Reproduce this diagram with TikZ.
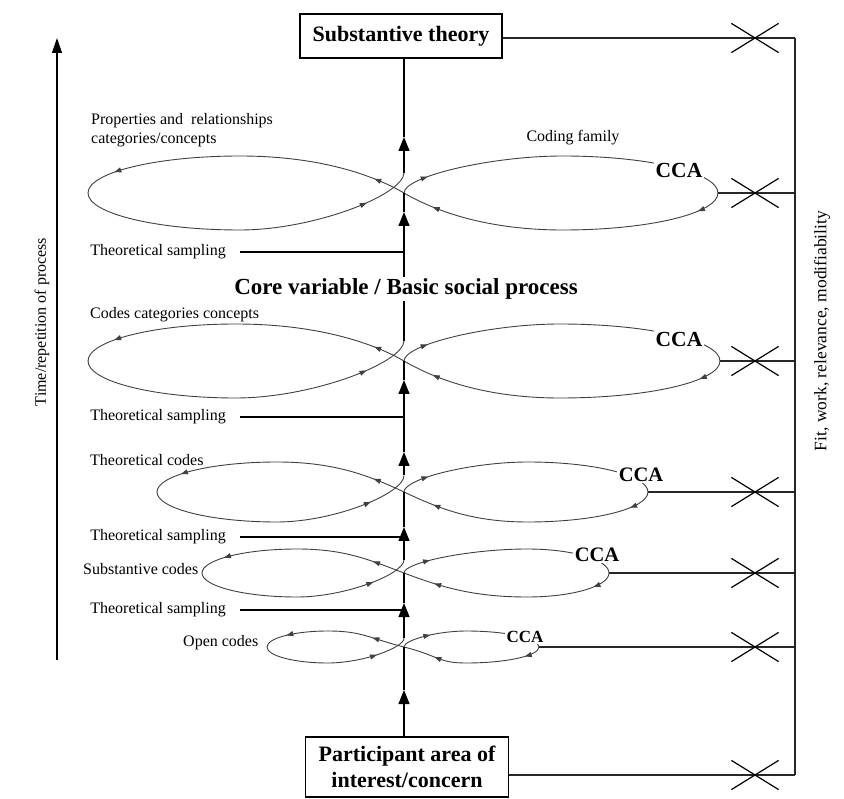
\documentclass[tikz,border=0pt]{standalone}
\usepackage{fontspec}
\setmainfont{Liberation Serif}
\usetikzlibrary{positioning, arrows.meta, shapes.misc, decorations.markings}
\tikzset{
  riquadro/.style  = {rectangle, draw, line width=1.4pt, fill=white, align=center, inner sep=3pt, font=\fontsize{22}{26}\selectfont\bfseries},
  titolo/.style    = {fill=white, inner sep=2pt, font=\fontsize{23}{27}\selectfont\bfseries},
  etich/.style     = {inner sep=0pt, align=left, font=\fontsize{16}{19}\selectfont},
  cca/.style       = {fill=white, inner sep=1.5pt, font=\fontsize{#1}{#1}\selectfont\bfseries},
  lus/.style       = {line width=0.9pt, draw=black!75},
  asse/.style      = {line width=1.2pt},
  link/.style      = {line width=1.5pt, draw=black!85},
  croce/.style     = {cross out, draw, line width=1.2pt, minimum width=46pt, minimum height=28pt, inner sep=0pt},
  freccia/.style   = {-{Triangle[length=14pt,width=11pt]}},
  freccina/.style  = {postaction={decorate}, decoration={markings, mark=at position #1 with {\arrow{Triangle[length=7pt,width=5pt]}}}},
  % figure eight: half height, left end, left top, right top, right end
  pics/ciclo/.style n args={5}{code={
    \coordinate (-c)   at (0,0);
    \coordinate (-top) at (0,-0.55*#1);
    \coordinate (-re)  at (#5,0);
    % right loop
    \draw[lus, freccina=30pt] (0,0) .. controls (0,-0.45*#1) and (0.55*#4,-#1) .. (#4,-#1);
    \draw[lus] (#4,-#1) .. controls ({#4+0.552*(#5-#4)},-#1) and (#5,-0.552*#1) .. (#5,0);
    \draw[lus, freccina={10pt+0.5*#1pt}] (#5,0) .. controls (#5,0.552*#1) and ({#4+0.552*(#5-#4)},#1) .. (#4,#1);
    \draw[lus, freccina=-32pt] (#4,#1) .. controls (0.55*#4,#1) and (35,0.55*#1) .. (0,0);
    % left loop
    \draw[lus, freccina=33pt] (0,0) .. controls (-35,-0.55*#1) and (-0.55*#3,-#1) .. (-#3,-#1);
    \draw[lus, freccina={-15pt-0.55*#1pt}] (-#3,-#1) .. controls ({-#3-0.552*(#2-#3)},-#1) and (-#2,-0.552*#1) .. (-#2,0);
    \draw[lus] (-#2,0) .. controls (-#2,0.552*#1) and ({-#3-0.552*(#2-#3)},#1) .. (-#3,#1);
    \draw[lus, freccina={-20pt-0.8*#1pt}] (-#3,#1) .. controls (-0.55*#3,#1) and (0,0.05*#1) .. (0,-0.55*#1);
  }}
}

\begin{document}
\begin{tikzpicture}[x=1pt, y=-1pt]
  \useasboundingbox (0,0) rectangle (844,799);

  % boxes
  \node[riquadro, minimum width=202pt, minimum height=44pt] (sub)  at (401,36)  {Substantive theory};
  \node[riquadro, minimum width=203pt, minimum height=60pt] (part) at (407,767) {Participant area of\\interest/concern};

  % figure eights (from top to bottom)
  \pic (s1) at (404,193) {ciclo={37}{316}{164}{159}{314}};
  \pic (s2) at (404,361) {ciclo={37}{316}{168}{156}{316}};
  \pic (s3) at (404,492) {ciclo={30}{247}{127}{124}{244}};
  \pic (s4) at (404,573) {ciclo={24}{202}{107}{123}{205}};
  \pic (s5) at (404,647) {ciclo={16}{137}{76}{62}{135}};

  % main axis
  \coordinate (f0) at (404,690);
  \coordinate (f1) at (404,603);
  \coordinate (f2) at (404,527);
  \coordinate (f3) at (404,452);
  \coordinate (f4) at (404,380);
  \coordinate (f5) at (404,212);
  \coordinate (f6) at (404,137);

  \draw[asse, freccia] (part.north -| s5-c) -- (f0);
  \draw[asse]          (f0) -- (s5-c);
  \draw[asse, freccia] (s5-top) -- (f1);
  \draw[asse]          (f1) -- (s4-c);
  \draw[asse, freccia] (s4-top) -- (f2);
  \draw[asse]          (f2) -- (s3-c);
  \draw[asse, freccia] (s3-top) -- (f3);
  \draw[asse, freccia] (f3) -- (f4);
  \draw[asse]          (f4) -- (s2-c);
  \draw[asse, freccia] (s2-top) -- (f5);
  \draw[asse]          (f5) -- (s1-c);
  \draw[asse, freccia] (s1-top) -- (f6);
  \draw[asse]          (f6) -- (sub.south -| s1-c);

  % theoretical sampling
  \coordinate (h1) at (240,252);  \coordinate (g1) at (404,252);
  \coordinate (h2) at (240,417);  \coordinate (g2) at (404,417);
  \coordinate (h3) at (240,537);  \coordinate (g3) at (404,537);
  \coordinate (h4) at (240,610);  \coordinate (g4) at (404,610);

  \node[etich, left=14pt of h1] (ts1) {Theoretical sampling};
  \node[etich, left=14pt of h2] (ts2) {Theoretical sampling};
  \node[etich, left=14pt of h3] (ts3) {Theoretical sampling};
  \node[etich, left=14pt of h4] (ts4) {Theoretical sampling};

  \draw[asse] (h1) -- (g1);
  \draw[asse] (h2) -- (g2);
  \draw[asse] (h3) -- (g3);
  \draw[asse] (h4) -- (g4);

  % labels
  \node[titolo] (core) at (406,289) {Core variable / Basic social process};
  \node[etich, anchor=west] (prop)    at (91,130)  {Properties and\ \ relationships\\categories/concepts};
  \node[etich]              (fam)     at (573,138) {Coding family};
  \node[etich, anchor=west] (codcat)  at (90,315)  {Codes categories concepts};
  \node[etich, anchor=west] (teocod)  at (90,460)  {Theoretical codes};
  \node[etich, anchor=west] (sostcod) at (83,569)  {Substantive codes};
  \node[etich, anchor=west] (opencod) at (183,643) {Open codes};

  \node[cca=21.5] (cca1) at (679,170) {CCA};
  \node[cca=21.5] (cca2) at (679,339) {CCA};
  \node[cca=20.5] (cca3) at (641,475) {CCA};
  \node[cca=20.5] (cca4) at (597,555) {CCA};
  \node[cca=17]   (cca5) at (525,637) {CCA};

  % right rail
  \coordinate (rt) at (795,38);
  \coordinate (rb) at (795,775);
  \coordinate (cx) at (755,0);

  \draw[link] (sub.east |- rt) -- (rt);
  \draw[link] (rt) -- (rb);
  \draw[link] (part.east |- rb) -- (rb);
  \draw[link] (s1-re) -- (s1-re -| rt);
  \draw[link] (s2-re) -- (s2-re -| rt);
  \draw[link] (s3-re) -- (s3-re -| rt);
  \draw[link] (s4-re) -- (s4-re -| rt);
  \draw[link] (s5-re) -- (s5-re -| rt);

  \node[croce] (x0) at (cx |- rt)   {};
  \node[croce] (x1) at (cx |- s1-c) {};
  \node[croce] (x2) at (cx |- s2-c) {};
  \node[croce] (x3) at (cx |- s3-c) {};
  \node[croce] (x4) at (cx |- s4-c) {};
  \node[croce] (x5) at (cx |- s5-c) {};
  \node[croce] (x6) at (cx |- rb)   {};

  % side texts
  \coordinate (t0) at (57,660);
  \coordinate (t1) at (57,38);
  \draw[asse, -{Triangle[length=15pt,width=10pt]}] (t0) -- (t1);
  \node[etich, rotate=90] (tempo) at (42,322) {Time/repetition of process};
  \node[rotate=90, inner sep=0pt, font=\fontsize{17.5}{20}\selectfont] (fit) at (822,331) {Fit, work, relevance, modifiability};

\end{tikzpicture}
\end{document}
